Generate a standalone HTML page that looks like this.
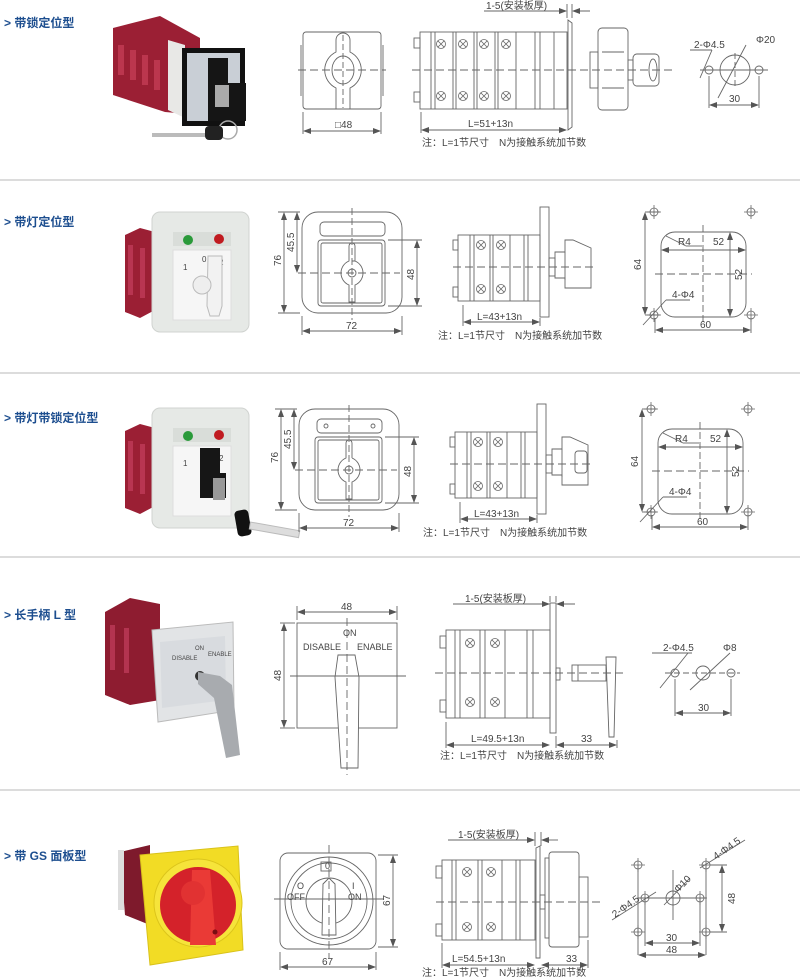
<!DOCTYPE html>
<html><head><meta charset="utf-8"><style>
html,body{margin:0;padding:0;background:#fff;}
svg{display:block;}
text{font-family:"Liberation Sans","Noto Sans CJK SC",sans-serif;fill:#444;}
.lb{fill:#1d4e8f;font-weight:bold;font-size:12px;}
.d{font-size:10px;}
</style></head><body>
<svg width="800" height="978" viewBox="0 0 800 978" xmlns="http://www.w3.org/2000/svg">
<defs>
<marker id="ar" markerWidth="8" markerHeight="6" refX="7" refY="3" orient="auto-start-reverse" markerUnits="userSpaceOnUse"><path d="M0,0L8,3L0,6z" fill="#555"/></marker>
<g id="sc"><circle r="4.5" fill="none" stroke="#666" stroke-width="0.8"/><path d="M-3,-3L3,3M-3,3L3,-3" stroke="#666" stroke-width="0.8"/></g>
<g id="cr"><circle r="4" fill="none" stroke="#666" stroke-width="0.8"/><path d="M-7,0H7M0,-7V7" stroke="#666" stroke-width="0.8"/></g>
</defs>
<g stroke="#c8c8c8" stroke-width="1.2"><line x1="0" y1="180" x2="800" y2="180"/><line x1="0" y1="373" x2="800" y2="373"/><line x1="0" y1="557" x2="800" y2="557"/><line x1="0" y1="790" x2="800" y2="790"/></g>

<text class="lb" x="4" y="27">&gt; 带锁定位型</text>
<text class="lb" x="4" y="226">&gt; 带灯定位型</text>
<text class="lb" x="4" y="422">&gt; 带灯带锁定位型</text>
<text class="lb" x="4" y="619">&gt; 长手柄 L 型</text>
<text class="lb" x="4" y="860">&gt; 带 GS 面板型</text>

<!-- PHOTO 1 -->
<g>
<polygon points="113,28 160,16 200,38 200,115 165,112 113,95" fill="#9b1f34"/>
<g fill="#c9405a" opacity="0.7"><rect x="118" y="45" width="6" height="30"/><rect x="130" y="50" width="6" height="30"/><rect x="142" y="55" width="6" height="30"/><rect x="154" y="60" width="6" height="30"/></g>
<polygon points="168,40 185,45 185,118 168,110" fill="#e8e8e6"/>
<rect x="182" y="48" width="63" height="78" fill="#111"/>
<rect x="187" y="53" width="53" height="68" fill="#c9cfd6"/>
<path d="M208,58h20v25h18v38h-38z" fill="#151515"/>
<rect x="215" y="85" width="14" height="22" fill="#aaa"/>
<rect x="152" y="133" width="55" height="4" fill="#bbb"/>
<circle cx="228" cy="130" r="9" fill="none" stroke="#aaa" stroke-width="1.5"/>
<rect x="205" y="126" width="18" height="14" rx="4" fill="#222"/>
</g>

<!-- ROW1 drawings -->
<g stroke="#666" stroke-width="0.9" fill="none">
<rect x="303" y="32" width="78" height="77" rx="3"/>
<line x1="301" y1="45" x2="301" y2="96"/><line x1="383" y1="45" x2="383" y2="96"/>
<path d="M336,40 a7,7 0 0 1 14,0 v12 a20,20 0 0 1 0,36 v21 h-14 v-21 a20,20 0 0 1 0,-36z"/>
<ellipse cx="343" cy="70" rx="11" ry="14"/>
<line x1="343" y1="35" x2="343" y2="108" stroke-dasharray="6,3"/>
<line x1="298" y1="70" x2="386" y2="70" stroke-dasharray="8,4"/>
<line x1="303" y1="112" x2="303" y2="134"/><line x1="381" y1="112" x2="381" y2="134"/>
<line x1="304" y1="131" x2="380" y2="131" marker-start="url(#ar)" marker-end="url(#ar)"/>
<!-- side -->
<rect x="420" y="32" width="147" height="77"/>
<rect x="414" y="38" width="6" height="10"/><rect x="414" y="92" width="6" height="10"/>
<line x1="431" y1="32" x2="431" y2="109"/><line x1="435" y1="32" x2="435" y2="109"/>
<line x1="453" y1="32" x2="453" y2="109"/><line x1="456" y1="32" x2="456" y2="109"/>
<line x1="474" y1="32" x2="474" y2="109"/><line x1="477" y1="32" x2="477" y2="109"/>
<line x1="495" y1="32" x2="495" y2="109"/><line x1="498" y1="32" x2="498" y2="109"/>
<line x1="516" y1="32" x2="516" y2="109"/>
<line x1="535" y1="32" x2="535" y2="109"/><line x1="540" y1="32" x2="540" y2="109"/><line x1="554" y1="32" x2="554" y2="109"/>
<path d="M568,20 l4,3 v104 l-4,3z"/>
<rect x="590" y="52" width="8" height="36"/>
<rect x="598" y="28" width="30" height="82" rx="4"/>
<line x1="602" y1="52" x2="624" y2="52"/><line x1="602" y1="88" x2="624" y2="88"/>
<rect x="628" y="60" width="5" height="20"/>
<rect x="633" y="54" width="26" height="32" rx="4"/>
<ellipse cx="653" cy="70" rx="4" ry="11"/>
<line x1="412" y1="70" x2="675" y2="70" stroke-dasharray="8,4"/>
<line x1="567" y1="4" x2="567" y2="18"/><line x1="572" y1="4" x2="572" y2="18"/>
<line x1="484" y1="11" x2="566" y2="11" marker-end="url(#ar)"/><line x1="590" y1="11" x2="573" y2="11" marker-end="url(#ar)"/>
<line x1="421" y1="112" x2="421" y2="133"/>
<line x1="422" y1="130" x2="566" y2="130" marker-start="url(#ar)" marker-end="url(#ar)"/>
<!-- holes -->
<circle cx="709" cy="70" r="4"/><circle cx="735" cy="70" r="15"/><circle cx="759" cy="70" r="4"/>
<line x1="700" y1="70" x2="768" y2="70"/>
<line x1="735" y1="53" x2="735" y2="87" stroke-dasharray="6,3"/>
<line x1="746" y1="45" x2="718" y2="98"/>
<line x1="690" y1="50" x2="712" y2="50"/><line x1="712" y1="50" x2="700" y2="78"/>
<line x1="709" y1="76" x2="709" y2="108"/><line x1="759" y1="76" x2="759" y2="108"/>
<line x1="710" y1="105" x2="758" y2="105" marker-start="url(#ar)" marker-end="url(#ar)"/>
</g>
<g>
<use href="#sc" x="441" y="44"/><use href="#sc" x="463" y="44"/><use href="#sc" x="484" y="44"/><use href="#sc" x="506" y="44"/>
<use href="#sc" x="441" y="96"/><use href="#sc" x="463" y="96"/><use href="#sc" x="484" y="96"/><use href="#sc" x="506" y="96"/>
</g>
<text class="d" x="335" y="128">□48</text>
<text class="d" x="486" y="9">1-5(安装板厚)</text>
<text class="d" x="468" y="127">L=51+13n</text>
<text class="d" x="422" y="146">注：L=1节尺寸　N为接触系统加节数</text>
<text class="d" x="694" y="48">2-Φ4.5</text>
<text class="d" x="756" y="43">Φ20</text>
<text class="d" x="729" y="102">30</text>

<!-- PHOTO 2 & 3 -->
<g id="ph2">
<polygon points="125,235 140,228 155,232 155,310 140,318 125,312" fill="#9b1f34"/>
<rect x="128" y="245" width="5" height="50" fill="#c46" opacity="0.6"/><rect x="140" y="248" width="5" height="50" fill="#c46" opacity="0.6"/>
<rect x="152" y="212" width="97" height="120" rx="8" fill="#e6e9e6" stroke="#d0d3d0"/>
<rect x="173" y="232" width="58" height="14" fill="#d9ddd9"/>
<circle cx="188" cy="240" r="5" fill="#2a9a3a"/><circle cx="219" cy="239" r="5" fill="#c01b20"/>
<rect x="173" y="250" width="58" height="70" fill="#f6f6f6" stroke="#ddd"/>
</g>
<text x="183" y="270" font-size="8">1</text><text x="202" y="262" font-size="8">0</text><text x="219" y="265" font-size="8">2</text>
<path d="M208,256h14v50l-3,10h-9l-3,-10z" fill="#f2f2f2" stroke="#bbb"/>
<circle cx="202" cy="285" r="9" fill="#eee" stroke="#bbb"/>

<use href="#ph2" y="196"/>
<text x="183" y="466" font-size="8">1</text><text x="219" y="461" font-size="8">2</text>
<path d="M200,448h20v25h6v25h-26z" fill="#161616"/>
<rect x="213" y="478" width="12" height="22" fill="#999"/>
<rect x="236" y="510" width="14" height="26" rx="4" fill="#111" transform="rotate(-10 243 523)"/>
<rect x="250" y="522" width="50" height="7" fill="#ddd" stroke="#bbb" transform="rotate(10 250 525)"/>

<!-- ROW2/3 drawings -->
<g id="r2" stroke="#666" stroke-width="0.9" fill="none">
<rect x="302" y="212" width="100" height="101" rx="16"/>
<rect x="318" y="240" width="67" height="66" rx="3"/>
<rect x="321" y="243" width="61" height="60" rx="2"/>
<line x1="352" y1="208" x2="352" y2="320" stroke-dasharray="7,3"/>
<line x1="298" y1="273" x2="400" y2="273" stroke-dasharray="8,4"/>
<line x1="278" y1="212" x2="300" y2="212"/><line x1="278" y1="313" x2="300" y2="313"/>
<line x1="284" y1="213" x2="284" y2="312" marker-start="url(#ar)" marker-end="url(#ar)"/>
<line x1="297" y1="213" x2="297" y2="272" marker-start="url(#ar)" marker-end="url(#ar)"/>
<line x1="388" y1="240" x2="422" y2="240"/><line x1="388" y1="306" x2="422" y2="306"/>
<line x1="417" y1="241" x2="417" y2="305" marker-start="url(#ar)" marker-end="url(#ar)"/>
<line x1="302" y1="316" x2="302" y2="335"/><line x1="402" y1="316" x2="402" y2="335"/>
<line x1="303" y1="331" x2="401" y2="331" marker-start="url(#ar)" marker-end="url(#ar)"/>
<!-- side -->
<rect x="458" y="235" width="82" height="66"/>
<rect x="453" y="240" width="5" height="10"/><rect x="453" y="287" width="5" height="10"/>
<line x1="470" y1="235" x2="470" y2="301"/><line x1="474" y1="235" x2="474" y2="301"/>
<line x1="490" y1="235" x2="490" y2="301"/><line x1="493" y1="235" x2="493" y2="301"/>
<line x1="510" y1="235" x2="510" y2="301"/><line x1="524" y1="235" x2="524" y2="301"/><line x1="528" y1="235" x2="528" y2="301"/>
<rect x="540" y="207" width="9" height="110"/>
<rect x="549" y="258" width="6" height="18"/>
<path d="M555,252h10v-12h8l18,8v40l-18,0h-8v-10h-10z"/>
<line x1="565" y1="252" x2="565" y2="280"/>
<line x1="453" y1="267" x2="597" y2="267" stroke-dasharray="8,4"/>
<line x1="463" y1="305" x2="463" y2="326"/><line x1="540" y1="318" x2="540" y2="326"/>
<line x1="464" y1="322" x2="539" y2="322" marker-start="url(#ar)" marker-end="url(#ar)"/>
<!-- holes -->
<rect x="661" y="232" width="85" height="85" rx="14"/>
<line x1="703" y1="225" x2="703" y2="322" stroke-dasharray="7,3"/>
<line x1="655" y1="274" x2="752" y2="274" stroke-dasharray="8,4"/>
<line x1="662" y1="250" x2="745" y2="250" marker-start="url(#ar)" marker-end="url(#ar)"/>
<line x1="730" y1="233" x2="730" y2="316" marker-start="url(#ar)" marker-end="url(#ar)"/>
<line x1="645" y1="212" x2="660" y2="212"/><line x1="645" y1="315" x2="660" y2="315"/>
<line x1="645" y1="213" x2="645" y2="314" marker-start="url(#ar)" marker-end="url(#ar)"/>
<line x1="655" y1="318" x2="655" y2="333"/><line x1="751" y1="318" x2="751" y2="333"/>
<line x1="656" y1="330" x2="750" y2="330" marker-start="url(#ar)" marker-end="url(#ar)"/>
<line x1="666" y1="236" x2="686" y2="246"/><line x1="686" y1="246" x2="702" y2="246"/>
<line x1="666" y1="300" x2="690" y2="300"/><line x1="666" y1="300" x2="643" y2="325"/>
</g>
<g id="r2u">
<use href="#cr" x="654" y="212"/><use href="#cr" x="751" y="212"/><use href="#cr" x="654" y="315"/><use href="#cr" x="751" y="315"/>
<use href="#sc" x="481" y="245"/><use href="#sc" x="501" y="245"/><use href="#sc" x="481" y="289"/><use href="#sc" x="501" y="289"/>
</g>
<!-- row2 specific -->
<g stroke="#666" stroke-width="0.9" fill="none">
<rect x="320" y="222" width="65" height="14" rx="4"/>
<path d="M349,246 a3,3 0 0 1 6,0 v15 h-3 M349,246 v15 a13,13 0 0 0 0,24 v17 h6 v-17 a13,13 0 0 0 0,-24"/>
<circle cx="352" cy="273" r="4"/>
</g>
<text class="d" x="0" y="0" transform="translate(281,266) rotate(-90)">76</text>
<text class="d" x="0" y="0" transform="translate(294,252) rotate(-90)">45.5</text>
<text class="d" x="0" y="0" transform="translate(414,280) rotate(-90)">48</text>
<text class="d" x="346" y="329">72</text>
<text class="d" x="477" y="320">L=43+13n</text>
<text class="d" x="438" y="339">注：L=1节尺寸　N为接触系统加节数</text>
<text class="d" x="678" y="245">R4</text><text class="d" x="713" y="245">52</text>
<text class="d" x="0" y="0" transform="translate(742,280) rotate(-90)">52</text>
<text class="d" x="0" y="0" transform="translate(641,270) rotate(-90)">64</text>
<text class="d" x="672" y="298">4-Φ4</text><text class="d" x="700" y="328">60</text>

<!-- row3 -->
<g transform="translate(-3,197)">
<use href="#r2"/><use href="#r2u"/>
<g stroke="#666" stroke-width="0.9" fill="none">
<rect x="320" y="222" width="65" height="14" rx="4"/>
<circle cx="329" cy="229" r="2"/><circle cx="376" cy="229" r="2"/>
<path d="M349,246 a3,3 0 0 1 6,0 v15 M349,246 v15 a13,13 0 0 0 0,24 v17 h6 v-17 a13,13 0 0 0 0,-24"/>
<circle cx="352" cy="273" r="4"/>
<rect x="578" y="254" width="12" height="22" rx="3"/>
</g>
<text class="d" x="0" y="0" transform="translate(281,266) rotate(-90)">76</text>
<text class="d" x="0" y="0" transform="translate(294,252) rotate(-90)">45.5</text>
<text class="d" x="0" y="0" transform="translate(414,280) rotate(-90)">48</text>
<text class="d" x="346" y="329">72</text>
<text class="d" x="477" y="320">L=43+13n</text>
<text class="d" x="426" y="339">注：L=1节尺寸　N为接触系统加节数</text>
<text class="d" x="678" y="245">R4</text><text class="d" x="713" y="245">52</text>
<text class="d" x="0" y="0" transform="translate(742,280) rotate(-90)">52</text>
<text class="d" x="0" y="0" transform="translate(641,270) rotate(-90)">64</text>
<text class="d" x="672" y="298">4-Φ4</text><text class="d" x="700" y="328">60</text>
</g>

<!-- PHOTO 4 -->
<g>
<polygon points="105,612 130,598 160,604 160,700 130,705 105,695" fill="#8e1c30"/>
<rect x="110" y="625" width="5" height="45" fill="#c46" opacity="0.6"/><rect x="124" y="628" width="5" height="45" fill="#c46" opacity="0.6"/>
<polygon points="152,630 233,622 234,710 158,722" fill="#e2e4e6" stroke="#bbb"/>
<polygon points="160,642 225,636 226,700 162,708" fill="#d8dbdf"/>
<text x="172" y="660" font-size="6">DISABLE</text><text x="195" y="650" font-size="6">ON</text><text x="208" y="656" font-size="6">ENABLE</text>
<circle cx="200" cy="676" r="5" fill="#333"/>
<polygon points="198,672 220,676 232,685 240,755 226,758 214,698 198,684" fill="#a8abaf"/>
</g>

<!-- ROW4 drawings -->
<g stroke="#666" stroke-width="0.9" fill="none">
<rect x="297" y="623" width="100" height="105"/>
<line x1="297" y1="606" x2="297" y2="620"/><line x1="397" y1="606" x2="397" y2="620"/>
<line x1="298" y1="612" x2="396" y2="612" marker-start="url(#ar)" marker-end="url(#ar)"/>
<line x1="280" y1="623" x2="295" y2="623"/><line x1="280" y1="728" x2="295" y2="728"/>
<line x1="284" y1="624" x2="284" y2="727" marker-start="url(#ar)" marker-end="url(#ar)"/>
<polygon points="338,655 355,655 359,677 358,768 341,768 335,677" fill="#fff"/>
<line x1="347" y1="618" x2="347" y2="775" stroke-dasharray="8,4"/>
<line x1="290" y1="676" x2="406" y2="676"/>
<!-- side -->
<rect x="446" y="630" width="104" height="88"/>
<rect x="440" y="636" width="6" height="12"/><rect x="440" y="700" width="6" height="12"/>
<line x1="455" y1="630" x2="455" y2="718"/><line x1="460" y1="630" x2="460" y2="718"/>
<line x1="480" y1="630" x2="480" y2="718"/><line x1="485" y1="630" x2="485" y2="718"/>
<line x1="505" y1="630" x2="505" y2="718"/>
<line x1="527" y1="630" x2="527" y2="718"/><line x1="533" y1="630" x2="533" y2="718"/>
<rect x="550" y="603" width="6" height="130"/>
<rect x="556" y="668" width="4" height="12"/>
<rect x="572" y="665" width="34" height="16"/>
<line x1="578" y1="665" x2="578" y2="681"/>
<polygon points="606,657 616,657 614,737 609,737"/>
<line x1="435" y1="673" x2="625" y2="673" stroke-dasharray="8,4"/>
<line x1="550" y1="596" x2="550" y2="602"/><line x1="556" y1="596" x2="556" y2="602"/>
<line x1="453" y1="604" x2="549" y2="604" marker-end="url(#ar)"/><line x1="575" y1="604" x2="557" y2="604" marker-end="url(#ar)"/>
<line x1="446" y1="722" x2="446" y2="748"/><line x1="556" y1="736" x2="556" y2="748"/><line x1="617" y1="740" x2="617" y2="748"/>
<line x1="447" y1="745" x2="549" y2="745" marker-start="url(#ar)" marker-end="url(#ar)"/>
<line x1="557" y1="745" x2="616" y2="745" marker-start="url(#ar)" marker-end="url(#ar)"/>
<!-- holes -->
<circle cx="675" cy="673" r="4"/><circle cx="703" cy="673" r="7"/><circle cx="731" cy="673" r="4"/>
<line x1="665" y1="673" x2="740" y2="673" stroke-dasharray="6,3"/>
<line x1="652" y1="653" x2="692" y2="653"/><line x1="688" y1="653" x2="660" y2="688"/>
<line x1="730" y1="653" x2="690" y2="690"/>
<line x1="675" y1="679" x2="675" y2="716"/><line x1="731" y1="679" x2="731" y2="716"/>
<line x1="676" y1="713" x2="730" y2="713" marker-start="url(#ar)" marker-end="url(#ar)"/>
</g>
<use href="#sc" x="470" y="643"/><use href="#sc" x="495" y="643"/><use href="#sc" x="470" y="702"/><use href="#sc" x="495" y="702"/>
<text class="d" x="341" y="610">48</text>
<text class="d" x="0" y="0" transform="translate(281,681) rotate(-90)">48</text>
<text x="343" y="636" font-size="9">ON</text>
<text x="303" y="650" font-size="9">DISABLE</text>
<text x="357" y="650" font-size="9">ENABLE</text>
<text class="d" x="465" y="602">1-5(安装板厚)</text>
<text class="d" x="471" y="742">L=49.5+13n</text>
<text class="d" x="581" y="742">33</text>
<text class="d" x="440" y="759">注：L=1节尺寸　N为接触系统加节数</text>
<text class="d" x="663" y="651">2-Φ4.5</text>
<text class="d" x="723" y="651">Φ8</text>
<text class="d" x="698" y="711">30</text>

<!-- PHOTO 5 -->
<g>
<polygon points="120,852 150,845 150,925 125,915" fill="#7e1a2c"/>
<rect x="118" y="850" width="6" height="60" fill="#ddd"/>
<polygon points="140,855 238,846 243,950 150,965" fill="#f2dc25" stroke="#d9c21a"/>
<circle cx="198" cy="903" r="44" fill="#f6e43a" stroke="#dcc51b"/>
<circle cx="198" cy="905" r="38" fill="#d4222a"/>
<path d="M192,870 h18 l6,75 h-26 z" fill="#ea3a36"/>
<circle cx="193" cy="893" r="12" fill="#e13232"/>
<circle cx="215" cy="932" r="2.5" fill="#7a0d12"/>
</g>

<!-- ROW5 drawings -->
<g stroke="#666" stroke-width="0.9" fill="none">
<rect x="280" y="853" width="96" height="96" rx="8"/>
<circle cx="329" cy="901" r="44"/><circle cx="329" cy="901" r="38"/>
<circle cx="329" cy="901" r="23"/>
<rect x="321" y="862" width="10" height="9"/>
<polygon points="329,878 323,884 322,935 336,935 335,884" fill="#fff"/>
<line x1="329" y1="845" x2="329" y2="958" stroke-dasharray="8,4"/>
<line x1="274" y1="899" x2="384" y2="899"/>
<line x1="378" y1="855" x2="398" y2="855"/><line x1="378" y1="947" x2="398" y2="947"/>
<line x1="393" y1="856" x2="393" y2="946" marker-start="url(#ar)" marker-end="url(#ar)"/>
<line x1="280" y1="952" x2="280" y2="970"/><line x1="376" y1="952" x2="376" y2="970"/>
<line x1="281" y1="967" x2="375" y2="967" marker-start="url(#ar)" marker-end="url(#ar)"/>
<!-- side -->
<rect x="442" y="860" width="93" height="80"/>
<rect x="436" y="866" width="6" height="12"/><rect x="436" y="924" width="6" height="12"/>
<line x1="452" y1="860" x2="452" y2="940"/><line x1="456" y1="860" x2="456" y2="940"/>
<line x1="478" y1="860" x2="478" y2="940"/><line x1="482" y1="860" x2="482" y2="940"/>
<line x1="502" y1="860" x2="502" y2="940"/><line x1="516" y1="860" x2="516" y2="940"/><line x1="520" y1="860" x2="520" y2="940"/>
<path d="M536,848 l4,-2 v112 l-4,0z"/>
<rect x="540" y="895" width="5" height="14"/>
<rect x="545" y="858" width="4" height="80"/>
<rect x="549" y="852" width="30" height="95" rx="3"/>
<rect x="579" y="877" width="9" height="60"/>
<line x1="436" y1="902" x2="600" y2="902" stroke-dasharray="8,4"/>
<line x1="535" y1="832" x2="535" y2="846"/><line x1="541" y1="832" x2="541" y2="846"/>
<line x1="448" y1="840" x2="534" y2="840" marker-end="url(#ar)"/><line x1="558" y1="840" x2="542" y2="840" marker-end="url(#ar)"/>
<line x1="442" y1="943" x2="442" y2="968"/><line x1="588" y1="940" x2="588" y2="968"/>
<line x1="443" y1="965" x2="534" y2="965" marker-start="url(#ar)" marker-end="url(#ar)"/>
<line x1="542" y1="965" x2="587" y2="965" marker-start="url(#ar)" marker-end="url(#ar)"/>
<!-- holes -->
<line x1="638" y1="865" x2="638" y2="955"/><line x1="706" y1="865" x2="706" y2="955"/>
<line x1="645" y1="898" x2="645" y2="946"/><line x1="700" y1="898" x2="700" y2="946"/>
<line x1="638" y1="898" x2="706" y2="898"/>
<line x1="673" y1="870" x2="673" y2="920"/>
<circle cx="673" cy="898" r="7"/>
<line x1="664" y1="905" x2="690" y2="878"/>
<line x1="710" y1="865" x2="727" y2="865"/><line x1="710" y1="932" x2="727" y2="932"/>
<line x1="722" y1="866" x2="722" y2="931" marker-start="url(#ar)" marker-end="url(#ar)"/>
<line x1="646" y1="943" x2="699" y2="943" marker-start="url(#ar)" marker-end="url(#ar)"/>
<line x1="639" y1="955" x2="705" y2="955" marker-start="url(#ar)" marker-end="url(#ar)"/>
<line x1="612" y1="920" x2="656" y2="892"/>
<line x1="700" y1="868" x2="745" y2="840"/>
</g>
<use href="#cr" x="638" y="865"/><use href="#cr" x="706" y="865"/><use href="#cr" x="638" y="932"/><use href="#cr" x="706" y="932"/>
<use href="#cr" x="645" y="898"/><use href="#cr" x="700" y="898"/>
<use href="#sc" x="467" y="872"/><use href="#sc" x="491" y="872"/><use href="#sc" x="467" y="927"/><use href="#sc" x="491" y="927"/>
<text x="325" y="869" font-size="9">0</text>
<text x="297" y="889" font-size="9">O</text><text x="287" y="900" font-size="9">OFF</text>
<text x="352" y="889" font-size="9">I</text><text x="348" y="900" font-size="9">ON</text>
<text class="d" x="0" y="0" transform="translate(390,906) rotate(-90)">67</text>
<text class="d" x="322" y="965">67</text>
<text class="d" x="458" y="838">1-5(安装板厚)</text>
<text class="d" x="452" y="962">L=54.5+13n</text>
<text class="d" x="566" y="962">33</text>
<text class="d" x="422" y="976">注：L=1节尺寸　N为接触系统加节数</text>
<text class="d" x="0" y="0" transform="translate(615,918) rotate(-35)">2-Φ4.5</text>
<text class="d" x="0" y="0" transform="translate(678,893) rotate(-45)">Φ10</text>
<text class="d" x="0" y="0" transform="translate(716,860) rotate(-35)">4-Φ4.5</text>
<text class="d" x="0" y="0" transform="translate(735,904) rotate(-90)">48</text>
<text class="d" x="666" y="941">30</text>
<text class="d" x="666" y="953">48</text>
</svg>
</body></html>
